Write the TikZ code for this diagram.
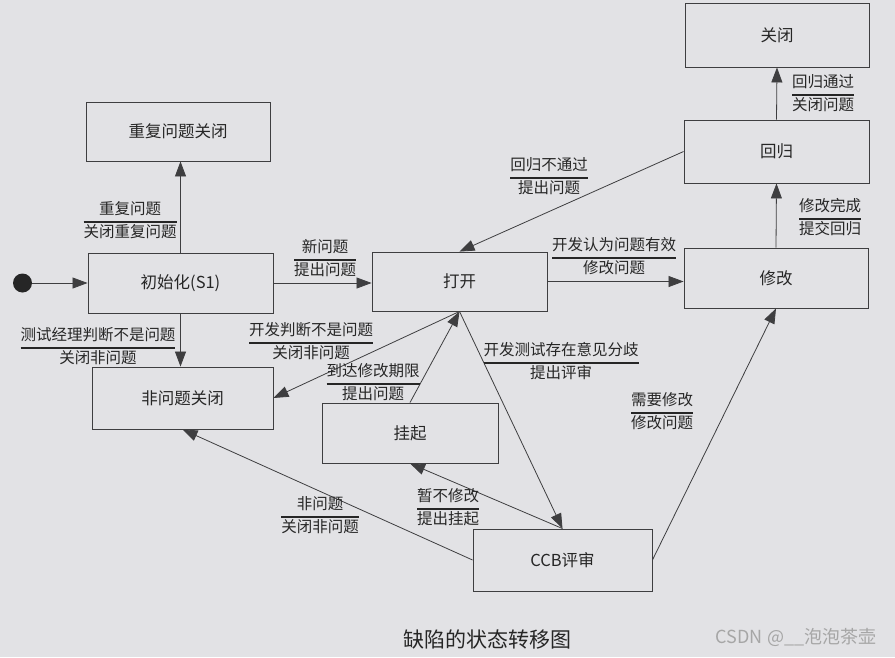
\documentclass[tikz,border=0pt]{standalone}
\usepackage{fontspec}
\setmainfont{Noto Sans CJK SC}
\usepackage{tikz}
\usetikzlibrary{arrows.meta}

\definecolor{paper}{RGB}{226,226,229}
\definecolor{ink}{RGB}{62,62,64}
\setlength{\arrayrulewidth}{1.2pt}
\newcommand{\trans}[2]{\begin{tabular}{@{}c@{}}#1\\\hline #2\end{tabular}}

\begin{document}
\begin{tikzpicture}[x=1pt,y=-1pt,
    state/.style={draw=ink,line width=0.9pt,minimum width=184pt,minimum height=60pt,
        font=\fontsize{16.5}{18}\selectfont,text=black!85},
    tr/.style={font=\fontsize{15.5}{21.5}\selectfont,text=black!85,inner sep=0pt},
    arr/.style={draw=ink,line width=0.8pt,-{Triangle[length=15pt,width=11pt]}}]

    \fill[paper] (0,0) rectangle (895,657); % page

    \node[circle,fill=black!85,minimum size=19pt,inner sep=0pt] (start) at (22.5,283) {};

    \node[state,minimum height=64pt] (close) at (777,35) {关闭};
    \node[state,minimum width=185pt,minimum height=63pt] (regress) at (776.5,151.5) {回归};
    \node[state] (fix) at (776,278) {修改};
    \node[state,minimum height=59pt] (dup) at (178,131.5) {重复问题关闭};
    \node[state,minimum width=185pt] (init) at (180.5,283) {初始化(S1)};
    \node[state,minimum width=181pt,minimum height=62pt] (notbug) at (182.5,398) {非问题关闭};
    \node[state,minimum width=175pt,minimum height=59pt] (open) at (459.5,281.5) {打开};
    \node[state,minimum width=176pt] (suspend) at (410,433) {挂起};
    \node[state,minimum width=179pt,minimum height=62pt] (ccb) at (562.5,560) {CCB评审};

    \draw[arr] (start) -- (init.west);
    \draw[arr] (init.north) -- (init.north |- dup.south); % duplicate
    \draw[arr] (init.south) -- (init.south |- notbug.north); % not a bug
    \draw[arr] (init.east) -- (init.east -| open.west); % new
    \draw[arr] (regress.west) -- (open.north); % regression failed
    \draw[arr] (open.east) -- (open.east -| fix.west); % valid
    \draw[arr] (fix.north) -- (regress.south);
    \draw[arr] (regress.north) -- (close.south);
    \draw[arr] (open.south) -- (notbug.east);
    \draw[arr] (suspend.north) -- (open.south);
    \draw[arr] (open.south) -- (ccb.north);
    \draw[arr] (ccb.north) -- (suspend.south);
    \draw[arr] (ccb.west) -- (notbug.south);
    \draw[arr] (ccb.east) -- (fix.south);

    \node[tr] (tDup) at (130,222) {\trans{重复问题}{关闭重复问题}};
    \node[tr] (tMgr) at (98,348) {\trans{测试经理判断不是问题}{关闭非问题}};
    \node[tr] (tNew) at (325,260) {\trans{新问题}{提出问题}};
    \node[tr] (tFail) at (549,178) {\trans{回归不通过}{提出问题}};
    \node[tr] (tValid) at (614,258) {\trans{开发认为问题有效}{修改问题}};
    \node[tr] (tDone) at (830,219) {\trans{修改完成}{提交回归}};
    \node[tr] (tPass) at (823,95) {\trans{回归通过}{关闭问题}};
    \node[tr] (tDev) at (311,343) {\trans{开发判断不是问题}{关闭非问题}};
    \node[tr] (tLimit) at (373,384) {\trans{到达修改期限}{提出问题}};
    \node[tr] (tArgue) at (561,363) {\trans{开发测试存在意见分歧}{提出评审}};
    \node[tr] (tHold) at (448,509) {\trans{暂不修改}{提出挂起}};
    \node[tr] (tNot) at (320,517) {\trans{非问题}{关闭非问题}};
    \node[tr] (tNeed) at (662,413) {\trans{需要修改}{修改问题}};

    \node[font=\fontsize{21}{24}\selectfont,text=black!85] (caption) at (487,640) {缺陷的状态转移图};
    \node[font=\fontsize{18}{20}\selectfont,text=black!35] (mark) at (796,637) {CSDN @\_\_泡泡茶壶};
\end{tikzpicture}
\end{document}
